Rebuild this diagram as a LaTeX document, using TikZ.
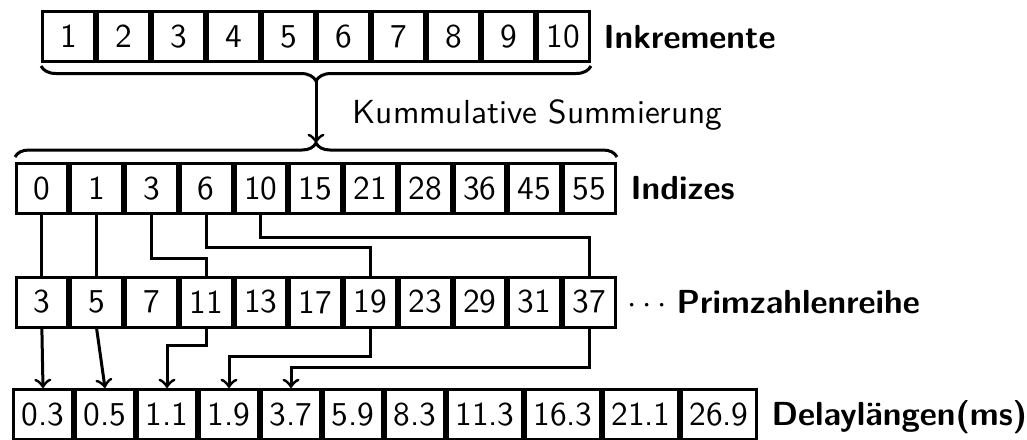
\documentclass[tikz,border=0pt]{standalone}
\usetikzlibrary{decorations.pathreplacing}
\begin{document}
\begin{tikzpicture}[x=0.3pt,y=-0.3pt,
  every node/.style={font=\sffamily},
  cell/.style={draw, line width=0.9pt, inner sep=0pt, minimum width=15.525pt, minimum height=15pt},
  topcell/.style={cell, minimum width=15.6pt},
  dshort/.style={cell, minimum width=17.7pt},
  dlong/.style={cell, minimum width=22.5pt},
  lbl/.style={anchor=base west, inner sep=0pt, font=\sffamily\bfseries},
  plain/.style={anchor=base west, inner sep=0pt},
  conn/.style={line width=0.9pt},
  arr/.style={conn, ->},
  brc/.style={decorate, line width=0.9pt}]
\useasboundingbox (0,0) rectangle (1027,439);

% top row: increments
\foreach \v [count=\i from 0] in {1,2,3,4,5,6,7,8,9,10}
  \node[topcell] (t\i) at ({41+55*\i+27.5},36.5) {\v};
% index row
\foreach \v [count=\i from 0] in {0,1,3,6,10,15,21,28,36,45,55}
  \node[cell] (i\i) at ({14.5+54.75*(\i+0.5)},188.5) {\v};
% prime row
\foreach \v [count=\i from 0] in {3,5,7,11,13,17,19,23,29,31,37}
  \node[cell] (p\i) at ({14.5+54.75*(\i+0.5)},302) {\v};
% delay row
\node[dshort, anchor=north west] (d0) at (12,388) {0.3};
\node[dshort, anchor=west] (d1) at (d0.east) {0.5};
\node[dshort, anchor=west] (d2) at (d1.east) {1.1};
\node[dshort, anchor=west] (d3) at (d2.east) {1.9};
\node[dshort, anchor=west] (d4) at (d3.east) {3.7};
\node[dshort, anchor=west] (d5) at (d4.east) {5.9};
\node[dshort, anchor=west] (d6) at (d5.east) {8.3};
\node[dlong, anchor=west] (d7) at (d6.east) {11.3};
\node[dlong, anchor=west] (d8) at (d7.east) {16.3};
\node[dlong, anchor=west] (d9) at (d8.east) {21.1};
\node[dlong, anchor=west] (d10) at (d9.east) {26.9};

% braces
\draw[brc, decoration={brace, amplitude=4.5pt, mirror}] (41,66) -- (591,66);
\coordinate (bt) at (316,81);
\draw[brc, decoration={brace, amplitude=4.2pt}] (15,157) -- (617,157);
\coordinate (bb) at (316,143);
\draw[arr] (bt) -- (bb);

% index -> prime
\draw[conn] (i0.south) -- (p0.north);
\draw[conn] (i1.south) -- (p1.north);
\draw[conn] (i2.south) -- (i2.south |- 0,258) -| (p3.north);
\draw[conn] (i3.south) -- (i3.south |- 0,247) -| (p6.north);
\draw[conn] (i4.south) -- (i4.south |- 0,237) -| (p10.north);

% prime -> delay
\draw[arr] (p0.south) -- (d0.north);
\draw[arr] (p1.south) -- (d1.north);
\draw[arr] (p3.south) -- (p3.south |- 0,345) -| (d2.north);
\draw[arr] (p6.south) -- (p6.south |- 0,356) -| (d3.north);
\draw[arr] (p10.south) -- (p10.south |- 0,367) -| (d4.north);

% labels
\node[lbl] (l1) at (603,48) {Inkremente};
\node[lbl] (l2) at (630,199) {Indizes};
\node[plain] (dots) at (627,313) {$\cdots$};
\node[lbl] (l3) at (676,313) {Primzahlenreihe};
\node[lbl] (l4) at (771,425) {Delaylängen(ms)};
\node[plain] (k) at (352,123) {Kummulative Summierung};
\end{tikzpicture}
\end{document}
